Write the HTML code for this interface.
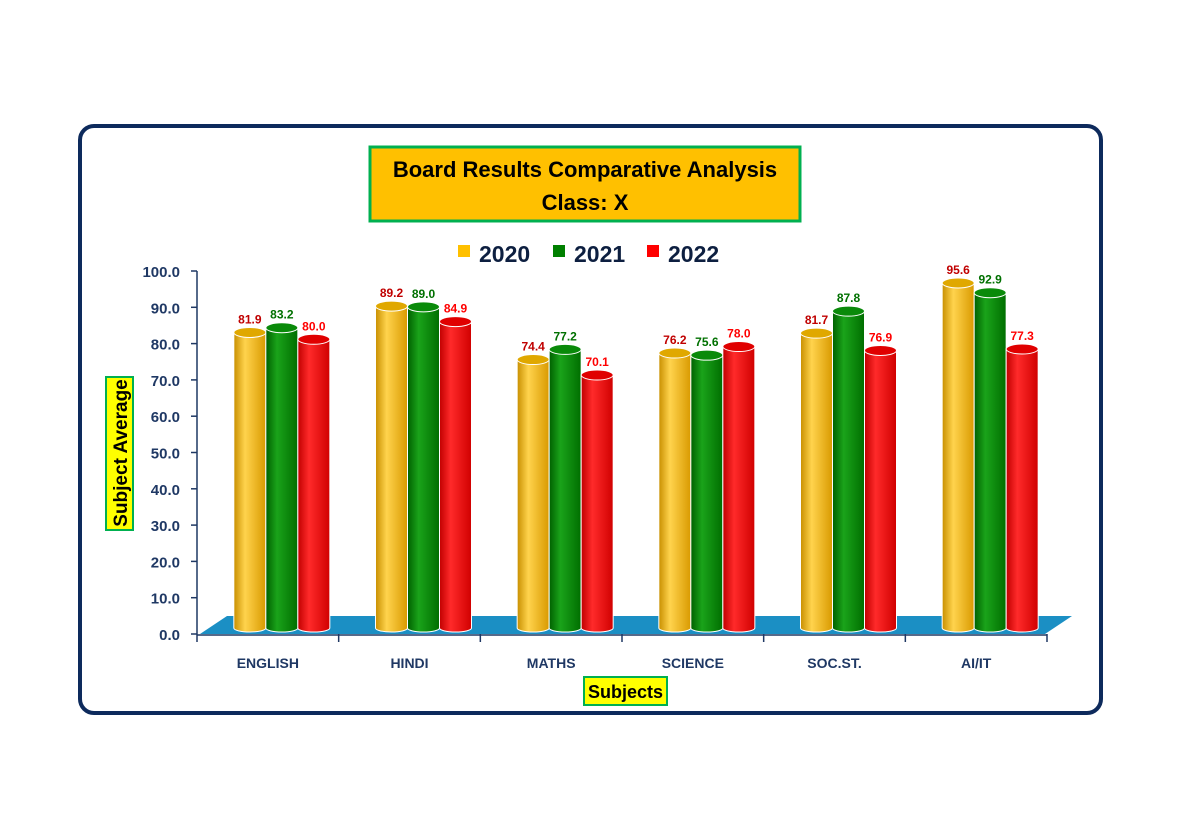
<!DOCTYPE html>
<html><head><meta charset="utf-8"><style>
html,body{margin:0;padding:0;background:#fff;}
svg{display:block;font-family:"Liberation Sans",sans-serif;}
</style></head><body>
<svg width="1187" height="838" viewBox="0 0 1187 838" xmlns="http://www.w3.org/2000/svg">
<defs>
<linearGradient id="g0" x1="0" x2="1"><stop offset="0" stop-color="#c88f00"/><stop offset="0.35" stop-color="#ffd34d"/><stop offset="1" stop-color="#d99a00"/></linearGradient>
<linearGradient id="g1" x1="0" x2="1"><stop offset="0" stop-color="#006000"/><stop offset="0.35" stop-color="#1aa31a"/><stop offset="1" stop-color="#006e00"/></linearGradient>
<linearGradient id="g2" x1="0" x2="1"><stop offset="0" stop-color="#c00000"/><stop offset="0.35" stop-color="#ff2a2a"/><stop offset="1" stop-color="#d00000"/></linearGradient>
</defs>
<rect x="80" y="126" width="1021" height="587" rx="14" fill="#fff" stroke="#0d2a5c" stroke-width="4"/>
<g>
<rect x="370" y="147" width="430" height="74" fill="#ffc000" stroke="#00b050" stroke-width="3"/>
<text x="585" y="177" text-anchor="middle" font-size="22" font-weight="bold">Board Results Comparative Analysis</text>
<text x="585" y="210" text-anchor="middle" font-size="22" font-weight="bold">Class: X</text>
</g>
<g id="legend"></g>
<polygon points="200,634 1045,634 1072,616 227,616" fill="#1b8fc4"/>
<g id="axes"></g>
<g id="bars"></g>
<g>
<rect x="106" y="377" width="27" height="153" fill="#ffff00" stroke="#00b050" stroke-width="2"/>
<text transform="translate(127,453) rotate(-90)" text-anchor="middle" font-size="19" font-weight="bold" fill="#000">Subject Average</text>
</g>
<g>
<rect x="584" y="677" width="83" height="28" fill="#ffff00" stroke="#00b050" stroke-width="2"/>
<text x="625.5" y="698" text-anchor="middle" font-size="18" font-weight="bold" fill="#000">Subjects</text>
</g>
</svg>
<script>
const categories=["ENGLISH","HINDI","MATHS","SCIENCE","SOC.ST.","AI/IT"];
const series=["2020","2021","2022"];
const v2020=[81.9,89.2,74.4,76.2,81.7,95.6];
const v2021=[83.2,89.0,77.2,75.6,87.8,92.9];
const v2022=[80.0,84.9,70.1,78.0,76.9,77.3];
const yTicks=[0,10,20,30,40,50,60,70,80,90,100];
const NS="http://www.w3.org/2000/svg";
function mk(t,a,p){const e=document.createElementNS(NS,t);for(const k in a)e.setAttribute(k,a[k]);p.appendChild(e);return e;}
const axX0=197,axX1=1047,axY0=634,axY1=271;
function yAxis(v){return axY0-(axY1-axY0)*-(v/100);}
const cw=(axX1-axX0)/categories.length;
function xCat(i){return axX0+cw*(i+0.5);}
const axes=document.getElementById('axes');
const ya=mk('line',{x1:axX0,y1:axY1,x2:axX0,y2:axY0,stroke:'#1f3864','stroke-width':1.5},axes);


const xa=mk('line',{x1:axX0,y1:axY0+1,x2:axX1,y2:axY0+1,stroke:'#1f3864','stroke-width':1.5},axes);


yTicks.forEach(t=>{const y=yAxis(t);
mk('line',{x1:axX0-6,y1:y,x2:axX0,y2:y,stroke:'#1f3864','stroke-width':1.5},axes);
const tx=mk('text',{x:axX0-17,y:y+6,'text-anchor':'end','font-size':15,'font-weight':'bold',fill:'#1f3864'},axes);
tx.textContent=t.toFixed(1);

});
for(let i=0;i<=categories.length;i++){const x=axX0+cw*i;mk('line',{x1:x,y1:axY0,x2:x,y2:axY0+8,stroke:'#1f3864','stroke-width':1.5},axes);}
categories.forEach((c,i)=>{const tx=mk('text',{x:xCat(i),y:668,'text-anchor':'middle','font-size':14,'font-weight':'bold',fill:'#1f3864'},axes);
tx.textContent=c;

});
const vals=[v2020,v2021,v2022];
const labCol=['#c00000','#007000','#ff0000'];
const baseY=628,bw=32,scale=(baseY-283)/95.6;
const bars=document.getElementById('bars');
categories.forEach((c,i)=>{
 const cx=xCat(i)+14;
 vals.forEach((arr,s)=>{
  const v=arr[i];const x=cx-48+s*bw;const top=baseY-v*scale;
  const g=mk('g',{},bars);
  
  
  mk('path',{d:`M${x},${top} L${x},${baseY} A${bw/2},4 0 0 0 ${x+bw},${baseY} L${x+bw},${top} Z`,fill:`url(#g${s})`,stroke:'#fff','stroke-width':1},g);
  mk('ellipse',{cx:x+bw/2,cy:top,rx:bw/2,ry:5,fill:['#e0a800','#0a8a0a','#e00000'][s],stroke:'#fff','stroke-width':1},g);
  const tx=mk('text',{x:x+bw/2,y:top-9,'text-anchor':'middle','font-size':12,'font-weight':'bold',fill:labCol[s]},g);
  tx.textContent=v.toFixed(1);
  
  
 });
});
const legend=document.getElementById('legend');
const lx=[458,553,647];const lc=['#ffc000','#008000','#ff0000'];
series.forEach((s,i)=>{
 const g=mk('g',{},legend);
 
 
 mk('rect',{x:lx[i],y:245,width:12,height:12,fill:lc[i]},g);
 const t=mk('text',{x:lx[i]+21,y:262,'font-size':23,'font-weight':'bold',fill:'#0d1f40'},g);
 t.textContent=s;
});
</script>
</body></html>
